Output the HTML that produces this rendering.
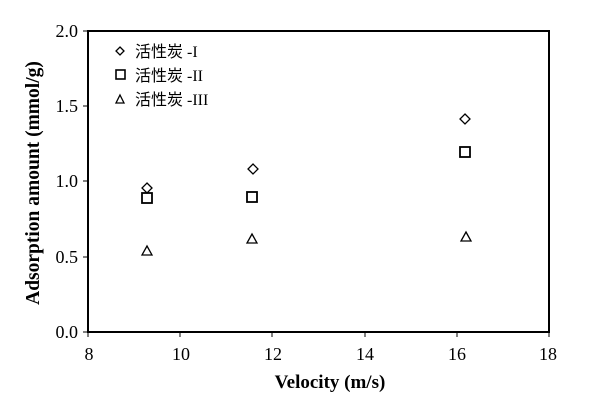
<!DOCTYPE html><html><head><style>body{margin:0;background:#fff}</style></head><body>
<svg width="600" height="411" xmlns="http://www.w3.org/2000/svg" font-family="Liberation Serif, serif">
<rect x="88" y="31" width="461" height="301" fill="none" stroke="#000" stroke-width="2"/>
<g stroke="#000" stroke-width="1">
<line x1="83" y1="31" x2="88" y2="31"/><line x1="83" y1="106" x2="88" y2="106"/><line x1="83" y1="181" x2="88" y2="181"/><line x1="83" y1="257" x2="88" y2="257"/><line x1="83" y1="332" x2="88" y2="332"/>
<line x1="88" y1="332" x2="88" y2="337"/><line x1="180" y1="332" x2="180" y2="337"/><line x1="272" y1="332" x2="272" y2="337"/><line x1="365" y1="332" x2="365" y2="337"/><line x1="457" y1="332" x2="457" y2="337"/><line x1="549" y1="332" x2="549" y2="337"/>
</g>
<g font-size="18" text-anchor="end" fill="#000">
<text x="78" y="37">2.0</text><text x="78" y="112">1.5</text><text x="78" y="187">1.0</text><text x="78" y="263">0.5</text><text x="78" y="338">0.0</text></g>
<g font-size="18" text-anchor="middle">
<text x="89" y="360">8</text><text x="181" y="360">10</text><text x="273" y="360">12</text><text x="365" y="360">14</text><text x="457" y="360">16</text><text x="548" y="360">18</text></g>
<text x="330" y="388" font-size="19" font-weight="bold" text-anchor="middle">Velocity (m/s)</text>
<text transform="translate(39,183) rotate(-90)" font-size="19.5" font-weight="bold" text-anchor="middle">Adsorption amount (mmol/g)</text>
<g fill="none" stroke="#000" stroke-width="1.3">
<path d="M147 183 l5 5 -5 5 -5 -5z"/><path d="M253 164 l5 5 -5 5 -5 -5z"/><path d="M465 114 l5 5 -5 5 -5 -5z"/>
<rect x="142" y="193" width="10" height="10" stroke-width="1.8"/><rect x="247" y="192" width="10" height="10" stroke-width="1.8"/><rect x="460" y="147" width="10" height="10" stroke-width="1.8"/>
<path d="M147 246 l5 9 h-10z"/><path d="M252 234 l5 9 h-10z"/><path d="M466 232 l5 9 h-10z"/>
<path d="M120 47 l4 4 -4 4 -4 -4z"/><rect x="116" y="70" width="9" height="9" stroke-width="1.6"/><path d="M120 95 l4 8 h-8z"/>
</g>
<g font-family="Liberation Serif, Noto Sans CJK SC, sans-serif" font-size="16">
<text x="135" y="57">活性炭 -I</text><text x="135" y="81">活性炭 -II</text><text x="135" y="105">活性炭 -III</text></g>
</svg></body></html>
